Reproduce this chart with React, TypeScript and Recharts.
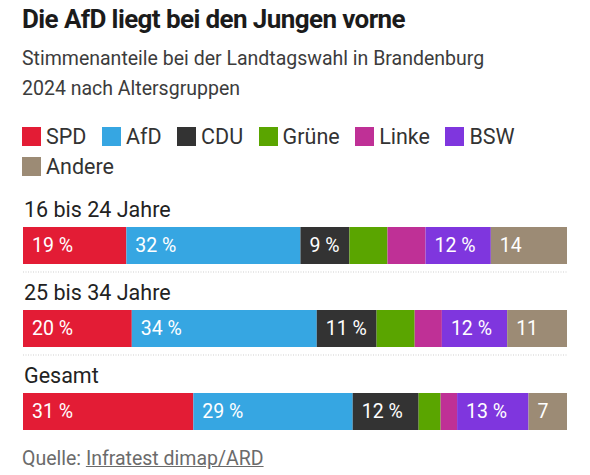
import React from "react";
import { BarChart, Bar, XAxis, YAxis, LabelList } from "recharts";

const categories = ["16 bis 24 Jahre", "25 bis 34 Jahre", "Gesamt"];
const parties = ["SPD", "AfD", "CDU", "Grüne", "Linke", "BSW", "Andere"];
const spd = [19, 20, 31];
const afd = [32, 34, 29];
const cdu = [9, 11, 12];
const gruene = [7, 7, 4];
const linke = [7, 5, 3];
const bsw = [12, 12, 13];
const andere = [14, 11, 7];
const seriesValues = [spd, afd, cdu, gruene, linke, bsw, andere];
const colors = ["#e31c35", "#36a6e2", "#333333", "#5aa500", "#bf3096", "#7f36de", "#9c8b75"];
const showPercent = [true, true, true, true, true, true, false];

const data = categories.map((c, i) => {
  const row: Record<string, any> = { name: c };
  parties.forEach((p, k) => {
    row[p] = seriesValues[k][i];
  });
  return row;
});

const FONT = "Roboto, 'Noto Sans', sans-serif";
const W = 590;
const H = 475;
const LEFT = 23;
const RIGHT = 23;

const RowLabel = (props: any) => {
  const { x, y, height, index } = props;
  return (
    <g>
      <text x={x + 1} y={y - 10.5} fill="#222" fontSize={21.5} fontFamily={FONT} textAnchor="start">
        {categories[index]}
      </text>
      {index < categories.length - 1 && (
        <line
          x1={x}
          x2={W - RIGHT}
          y1={y + height + 8}
          y2={y + height + 8}
          stroke="#cfcfcf"
          strokeWidth={1}
          strokeDasharray="1 1.5"
        />
      )}
    </g>
  );
};

const makeLabel = (k: number) => (props: any) => {
  const { x, y, width, height, index } = props;
  const minWidth = showPercent[k] ? 44 : 28;
  if (width < minWidth) return null;
  const v = seriesValues[k][index];
  return (
    <text
      x={x + 9}
      y={y + height / 2}
      fill="#fff"
      fontSize={19.5}
      fontFamily={FONT}
      dominantBaseline="central"
    >
      {showPercent[k] ? `${v} %` : `${v}`}
    </text>
  );
};

const LegendBlock = () => (
  <div style={{ display: "flex", flexWrap: "wrap", fontFamily: FONT, fontSize: 21.5, color: "#333", rowGap: 8 }}>
    {parties.map((p, k) => (
      <div key={p} style={{ display: "flex", alignItems: "center", marginRight: 15.5, height: 22 }}>
        <span style={{ width: 19, height: 19, background: colors[k], display: "inline-block", marginRight: 5 }} />
        <span>{p}</span>
      </div>
    ))}
  </div>
);

export default function App() {
  return (
    <div style={{ position: "absolute", left: 0, top: 0, width: W, height: H, background: "#fff", overflow: "hidden" }}>
      <div style={{ position: "absolute", left: 22, top: 4, fontFamily: FONT, fontWeight: 700, fontSize: 26, color: "#1b1b1b", letterSpacing: -0.6, whiteSpace: "nowrap" }}>
        Die AfD liegt bei den Jungen vorne
      </div>
      <div style={{ position: "absolute", left: 22, top: 44, width: 510, fontFamily: FONT, fontSize: 19.5, lineHeight: "30px", color: "#3c3c3c" }}>
        Stimmenanteile bei der Landtagswahl in Brandenburg 2024 nach Altersgruppen
      </div>
      <div style={{ position: "absolute", left: 22, top: 125, width: 565 }}>
        <LegendBlock />
      </div>
      <div style={{ position: "absolute", left: 0, top: 0 }}>
        <BarChart
          width={W}
          height={H}
          data={data}
          layout="vertical"
          stackOffset="expand"
          barSize={37}
          margin={{ top: 204, right: RIGHT, bottom: 22, left: LEFT }}
        >
          <XAxis type="number" hide domain={[0, 1]} />
          <YAxis type="category" dataKey="name" hide />
          {parties.map((p, k) => (
            <Bar key={p} dataKey={p} stackId="a" fill={colors[k]} isAnimationActive={false}>
              <LabelList dataKey={p} content={makeLabel(k)} />
              {k === 0 && <LabelList dataKey="name" content={RowLabel} />}
            </Bar>
          ))}
        </BarChart>
      </div>
      <div style={{ position: "absolute", left: 22, top: 447, fontFamily: FONT, fontSize: 19.5, lineHeight: "23px", color: "#6b6b6b" }}>
        Quelle: <span style={{ textDecoration: "underline" }}>Infratest dimap/ARD</span>
      </div>
    </div>
  );
}
